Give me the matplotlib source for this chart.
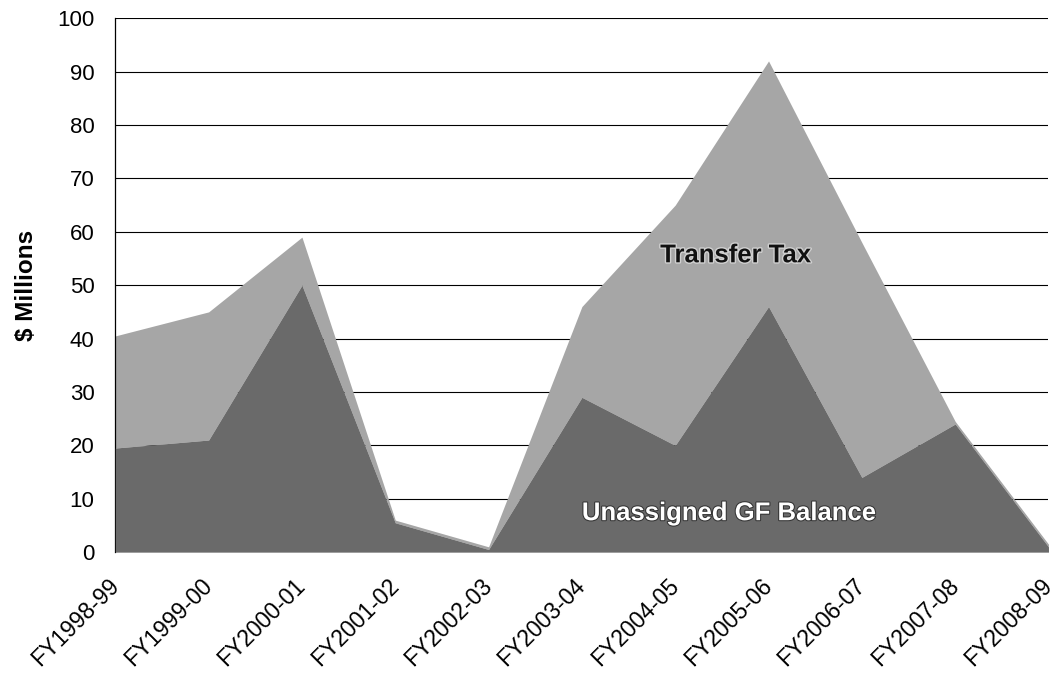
import matplotlib.pyplot as plt
import matplotlib.patheffects as pe
import numpy as np

plt.rcParams['font.family'] = ['Liberation Sans', 'DejaVu Sans']

years = ["FY1998-99", "FY1999-00", "FY2000-01", "FY2001-02", "FY2002-03",
         "FY2003-04", "FY2004-05", "FY2005-06", "FY2006-07", "FY2007-08",
         "FY2008-09"]
gf_balance = [19.5, 21, 50, 5.5, 0.5, 29, 20, 46, 14, 24, 1]
transfer_tax = [21, 24, 9, 0.5, 0.5, 17, 45, 46, 44, 0.5, 0.5]

x = np.arange(len(years))
total = np.array(gf_balance) + np.array(transfer_tax)

fig = plt.figure(figsize=(10.58, 6.75), dpi=100)
ax = fig.add_axes([0.109, 0.182, 0.882, 0.791])

for v in range(10, 101, 10):
    ax.axhline(v, color="black", lw=0.8, zorder=1)

ax.fill_between(x, gf_balance, total, color="#a6a6a6", lw=0, zorder=2)
ax.fill_between(x, 0, gf_balance, color="#6a6a6a", lw=0, zorder=3)

ax.text(6.65, 55.6, "Transfer Tax", fontsize=18.5, fontweight="bold",
        color="#111111", ha="center", va="center", zorder=5,
        path_effects=[pe.withStroke(linewidth=2, foreground="#d0d0d0")])
ax.text(6.58, 7.3, "Unassigned GF Balance", fontsize=18.5, fontweight="bold",
        color="white", ha="center", va="center", zorder=5,
        path_effects=[pe.withStroke(linewidth=1.5, foreground="#333333")])

ax.set_xlim(0, len(years) - 1)
ax.set_ylim(0, 100)
ax.set_yticks(range(0, 101, 10))
ax.set_xticks(x)
ax.set_xticklabels(years, rotation=45, ha="right", va="center",
                   rotation_mode="anchor", fontsize=16.5)
ax.tick_params(axis="both", length=0)
ax.tick_params(axis="y", pad=15, labelsize=16)
ax.tick_params(axis="x", pad=22)
ax.set_ylabel("$ Millions", fontsize=17.5, fontweight="bold", labelpad=14)

for s in ["top", "right", "bottom"]:
    ax.spines[s].set_visible(False)
ax.spines["left"].set_linewidth(0.9)

fig.savefig("out.png", dpi=100)
